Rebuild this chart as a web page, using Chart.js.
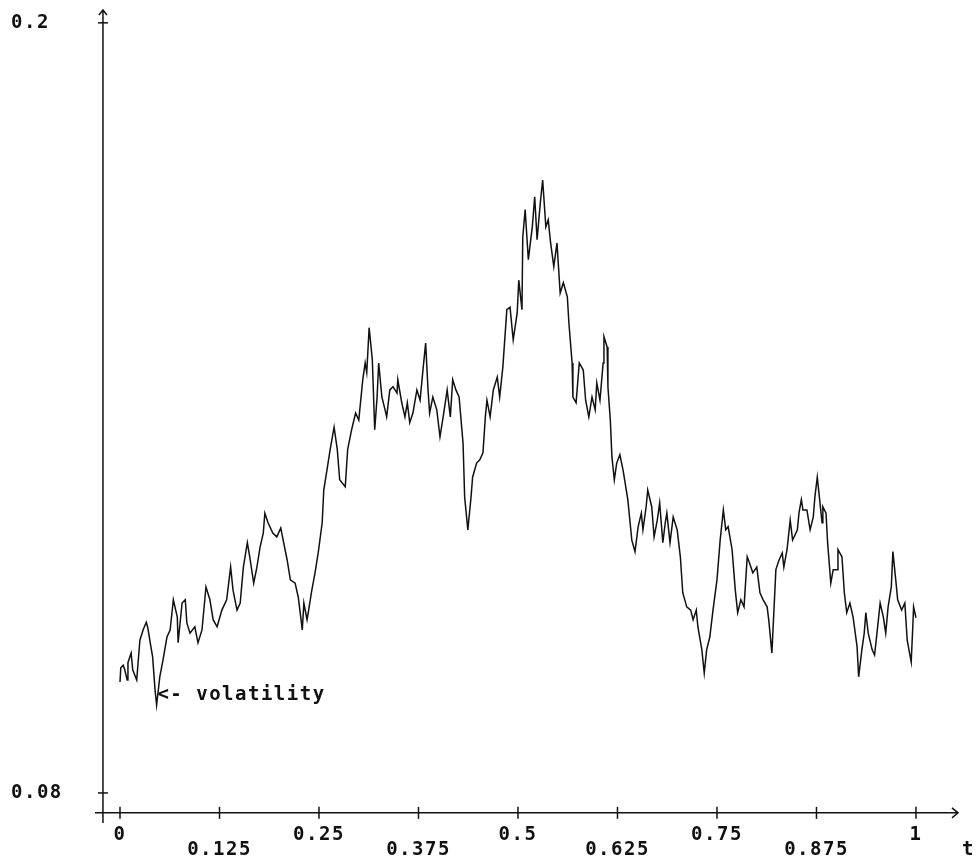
<!DOCTYPE html>
<html>
<head>
<meta charset="utf-8">
<script src="https://cdn.jsdelivr.net/npm/chart.js@4.4.1/dist/chart.umd.min.js"></script>
<style>
  html, body { margin: 0; padding: 0; background: #fff; }
  #wrap { width: 976px; height: 863px; }
</style>
</head>
<body>
<div id="wrap"><canvas id="chartCanvas" width="976" height="863"></canvas></div>
<script>
// time t (0..1) and volatility
const tValues = [
  0, 0.001, 0.004, 0.006, 0.009, 0.010, 0.014, 0.016, 0.021, 0.025,
  0.029, 0.033, 0.035, 0.038, 0.041, 0.044, 0.046, 0.050, 0.054, 0.059,
  0.063, 0.067, 0.072, 0.073, 0.078, 0.082, 0.084, 0.088, 0.094, 0.098,
  0.103, 0.108, 0.113, 0.117, 0.122, 0.128, 0.134, 0.139, 0.142, 0.147,
  0.151, 0.155, 0.160, 0.163, 0.168, 0.172, 0.176, 0.180, 0.182, 0.186,
  0.192, 0.197, 0.202, 0.205, 0.210, 0.214, 0.220, 0.224, 0.229, 0.231,
  0.235, 0.237, 0.241, 0.245, 0.249, 0.254, 0.256, 0.260, 0.264, 0.269,
  0.273, 0.276, 0.283, 0.286, 0.291, 0.296, 0.300, 0.305, 0.308, 0.310,
  0.313, 0.317, 0.320, 0.323, 0.325, 0.329, 0.333, 0.335, 0.339, 0.343,
  0.348, 0.349, 0.354, 0.358, 0.361, 0.364, 0.368, 0.373, 0.377, 0.381,
  0.384, 0.387, 0.389, 0.393, 0.398, 0.402, 0.406, 0.411, 0.415, 0.418,
  0.422, 0.426, 0.431, 0.433, 0.437, 0.441, 0.443, 0.448, 0.452, 0.456,
  0.459, 0.461, 0.465, 0.469, 0.474, 0.477, 0.481, 0.486, 0.490, 0.494,
  0.499, 0.501, 0.505, 0.506, 0.509, 0.513, 0.518, 0.521, 0.524, 0.528,
  0.531, 0.535, 0.538, 0.541, 0.545, 0.549, 0.553, 0.557, 0.562, 0.564,
  0.568, 0.569, 0.573, 0.577, 0.582, 0.585, 0.589, 0.593, 0.597, 0.599,
  0.603, 0.607, 0.608, 0.612, 0.613, 0.616, 0.618, 0.621, 0.624, 0.628,
  0.632, 0.634, 0.638, 0.643, 0.647, 0.651, 0.655, 0.657, 0.661, 0.663,
  0.668, 0.671, 0.675, 0.678, 0.682, 0.685, 0.687, 0.691, 0.695, 0.700,
  0.704, 0.707, 0.712, 0.717, 0.720, 0.724, 0.726, 0.731, 0.734, 0.737,
  0.741, 0.745, 0.750, 0.754, 0.758, 0.761, 0.764, 0.769, 0.773, 0.776,
  0.780, 0.784, 0.788, 0.791, 0.795, 0.800, 0.804, 0.808, 0.813, 0.815,
  0.819, 0.822, 0.824, 0.828, 0.832, 0.834, 0.838, 0.842, 0.845, 0.851,
  0.853, 0.856, 0.858, 0.863, 0.867, 0.871, 0.873, 0.876, 0.879, 0.882,
  0.883, 0.887, 0.889, 0.893, 0.896, 0.901, 0.902, 0.907, 0.910, 0.913,
  0.917, 0.921, 0.926, 0.928, 0.932, 0.935, 0.937, 0.940, 0.945, 0.948,
  0.951, 0.955, 0.959, 0.962, 0.965, 0.969, 0.971, 0.975, 0.977, 0.982,
  0.986, 0.989, 0.994, 0.996, 0.997, 1.0
];
const volValues = [
  0.0973, 0.0995, 0.0999, 0.0992, 0.0976, 0.1003, 0.1018, 0.0992, 0.0976, 0.1038,
  0.1054, 0.1066, 0.1057, 0.1034, 0.1012, 0.0961, 0.0937, 0.0981, 0.1007, 0.1043,
  0.1054, 0.1101, 0.1074, 0.1034, 0.1096, 0.1101, 0.1065, 0.1049, 0.1059, 0.1034,
  0.1054, 0.1121, 0.1101, 0.1070, 0.1059, 0.1085, 0.1101, 0.1152, 0.1116, 0.1085,
  0.1096, 0.1152, 0.1190, 0.1168, 0.1127, 0.1152, 0.1183, 0.1205, 0.1236, 0.1221,
  0.1205, 0.1199, 0.1213, 0.1194, 0.1163, 0.1132, 0.1127, 0.1105, 0.1054, 0.1096,
  0.1070, 0.1085, 0.1116, 0.1143, 0.1174, 0.1221, 0.1272, 0.1303, 0.1335, 0.1370,
  0.1335, 0.1288, 0.1277, 0.1335, 0.1366, 0.1392, 0.1381, 0.1444, 0.1470, 0.1455,
  0.1525, 0.1475, 0.1366, 0.1417, 0.1470, 0.1417, 0.1397, 0.1386, 0.1428, 0.1433,
  0.1423, 0.1444, 0.1408, 0.1386, 0.1408, 0.1377, 0.1392, 0.1428, 0.1412, 0.1464,
  0.1501, 0.1428, 0.1392, 0.1417, 0.1397, 0.1355, 0.1386, 0.1428, 0.1386, 0.1444,
  0.1428, 0.1417, 0.1345, 0.1261, 0.1210, 0.1261, 0.1292, 0.1314, 0.1319, 0.1330,
  0.1386, 0.1412, 0.1386, 0.1428, 0.1448, 0.1417, 0.1464, 0.1553, 0.1557, 0.1506,
  0.1548, 0.1599, 0.1553, 0.1666, 0.1709, 0.1631, 0.1682, 0.1729, 0.1662, 0.1719,
  0.1755, 0.1682, 0.1693, 0.1657, 0.1620, 0.1657, 0.1579, 0.1595, 0.1573, 0.1532,
  0.1470, 0.1417, 0.1408, 0.1470, 0.1459, 0.1412, 0.1386, 0.1417, 0.1397, 0.1439,
  0.1412, 0.1470, 0.1511, 0.1495, 0.1433, 0.1381, 0.1324, 0.1288, 0.1314, 0.1327,
  0.1303, 0.1288, 0.1257, 0.1194, 0.1176, 0.1215, 0.1236, 0.1210, 0.1246, 0.1272,
  0.1246, 0.1199, 0.1225, 0.1252, 0.1190, 0.1221, 0.1236, 0.1190, 0.1230, 0.1210,
  0.1168, 0.1112, 0.1090, 0.1085, 0.1070, 0.1085, 0.1059, 0.1023, 0.0987, 0.1023,
  0.1043, 0.1085, 0.1132, 0.1194, 0.1241, 0.1210, 0.1215, 0.1179, 0.1116, 0.1081,
  0.1101, 0.1090, 0.1168, 0.1158, 0.1143, 0.1152, 0.1112, 0.1101, 0.1090, 0.1070,
  0.1018, 0.1096, 0.1148, 0.1163, 0.1174, 0.1152, 0.1179, 0.1225, 0.1194, 0.1210,
  0.1236, 0.1257, 0.1241, 0.1241, 0.1210, 0.1230, 0.1261, 0.1292, 0.1257, 0.1221,
  0.1246, 0.1236, 0.1190, 0.1127, 0.1148, 0.1148, 0.1179, 0.1168, 0.1112, 0.1081,
  0.1096, 0.1074, 0.1028, 0.0981, 0.1023, 0.1049, 0.1081, 0.1049, 0.1023, 0.1015,
  0.1049, 0.1096, 0.1074, 0.1049, 0.1090, 0.1121, 0.1176, 0.1127, 0.1101, 0.1085,
  0.1096, 0.1038, 0.1004, 0.1059, 0.1090, 0.1073
];

const xTicks = [0, 0.125, 0.25, 0.375, 0.5, 0.625, 0.75, 0.875, 1];
const xTickLabels = ["0", "0.125", "0.25", "0.375", "0.5", "0.625", "0.75", "0.875", "1"];
const yTicks = [0.08, 0.2];
const yTickLabels = ["0.08", "0.2"];
const xAxisTitle = "t";
const seriesLabel = "<- volatility";
const seriesLabelAt = { t: 0.047, v: 0.0952 };

const FONT = "bold 19px 'DejaVu Sans Mono', monospace";
const INK = "#111";

// axes drawn by hand: arrows, crossing ticks, labels in two rows
const axesPlugin = {
  id: "oldAxes",
  afterDraw(chart) {
    const { ctx } = chart;
    const xs = chart.scales.x;
    const ys = chart.scales.y;
    const axisY = ys.getPixelForValue(0.0769);
    const axisX = xs.getPixelForValue(-0.0214);

    ctx.save();
    ctx.strokeStyle = INK;
    ctx.fillStyle = INK;
    ctx.lineWidth = 1.5;

    // x axis + arrow
    ctx.beginPath();
    ctx.moveTo(xs.left, axisY);
    ctx.lineTo(xs.right, axisY);
    ctx.moveTo(xs.right - 6, axisY - 5);
    ctx.lineTo(xs.right, axisY);
    ctx.lineTo(xs.right - 6, axisY + 5);
    ctx.stroke();

    // y axis + arrow
    ctx.beginPath();
    ctx.moveTo(axisX, ys.bottom);
    ctx.lineTo(axisX, ys.top);
    ctx.moveTo(axisX - 4, ys.top + 5);
    ctx.lineTo(axisX, ys.top);
    ctx.lineTo(axisX + 4, ys.top + 5);
    ctx.stroke();

    ctx.font = FONT;
    ctx.letterSpacing = "1.5px";
    ctx.textBaseline = "middle";

    xTicks.forEach((t, i) => {
      const px = xs.getPixelForValue(t);
      ctx.beginPath();
      ctx.moveTo(px, axisY - 6);
      ctx.lineTo(px, axisY + 6);
      ctx.stroke();
      ctx.textAlign = "center";
      ctx.fillText(xTickLabels[i], px, axisY + (i % 2 === 0 ? 22 : 37));
    });

    ctx.textAlign = "left";
    ctx.fillText(xAxisTitle, xs.right + 4, axisY + 37);

    yTicks.forEach((v, i) => {
      const py = ys.getPixelForValue(v);
      ctx.beginPath();
      ctx.moveTo(axisX - 5, py);
      ctx.lineTo(axisX + 5, py);
      ctx.stroke();
      ctx.textAlign = "left";
      ctx.fillText(yTickLabels[i], 11, py);
    });

    ctx.textAlign = "left";
    ctx.fillText(seriesLabel,
      xs.getPixelForValue(seriesLabelAt.t),
      ys.getPixelForValue(seriesLabelAt.v));
    ctx.restore();
  }
};

const points = tValues.map((t, i) => ({ x: t, y: volValues[i] }));

new Chart(document.getElementById("chartCanvas").getContext("2d"), {
  type: "line",
  data: {
    datasets: [{
      label: "volatility",
      data: points,
      borderColor: INK,
      borderWidth: 1.5,
      pointRadius: 0,
      tension: 0,
      fill: false
    }]
  },
  options: {
    responsive: false,
    animation: false,
    devicePixelRatio: 1,
    layout: { padding: { left: 95, right: 18, top: 10, bottom: 40 } },
    plugins: { legend: { display: false }, tooltip: { enabled: false } },
    scales: {
      x: { type: "linear", min: -0.0314, max: 1.0528, display: false },
      y: { type: "linear", min: 0.07532, max: 0.2020, display: false }
    }
  },
  plugins: [axesPlugin]
});
</script>
</body>
</html>
